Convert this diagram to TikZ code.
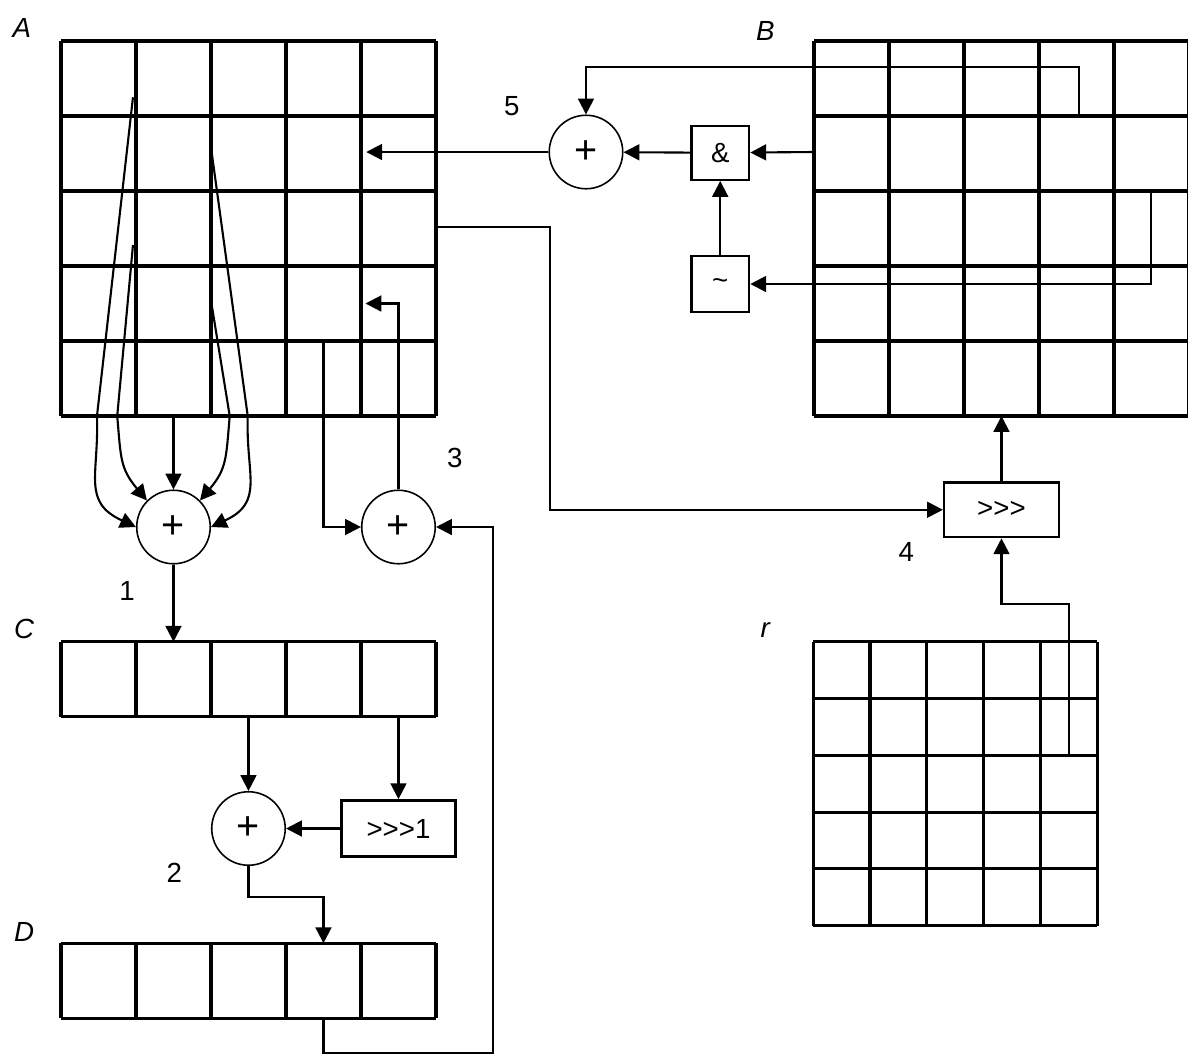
\documentclass[tikz,border=0pt]{standalone}
\usepackage{fontspec}
\setmainfont{Liberation Sans}
\usetikzlibrary{arrows.meta}

% three shift signs, kept apart so that >> is not turned into a guillemet
\newcommand{\shiftsign}{>\kern0pt>\kern0pt>}

\begin{document}
\begin{tikzpicture}[
    % Define styles
    gridline/.style={draw=black, line width=1.2pt},
    sumnode/.style={circle, draw=black, line width=0.6pt, minimum size=0.98cm, inner sep=0pt, font=\fontsize{15}{15}\selectfont},
    opbox/.style={rectangle, draw=black, line width=0.9pt, minimum width=0.77cm, minimum height=0.74cm, inner sep=0pt, font=\fontsize{10.5}{12}\selectfont},
    widebox/.style={opbox, minimum width=1.52cm, minimum height=0.75cm},
    matlabel/.style={font=\fontsize{10.5}{12}\selectfont\itshape},
    steplabel/.style={font=\fontsize{10.5}{12}\selectfont},
    arrow/.style={-{Triangle[length=6pt, width=6pt]}, line width=0.8pt}
]
    \useasboundingbox (-0.813,0.547) rectangle (15.027,-13.547);

    % 1. The matrices
    \draw[gridline] (0,0) grid (5,-5);
    \draw[gridline, shift={(10.04,0)}] (0,0) grid (5,-5);
    \draw[gridline, shift={(0,-8.01)}] (0,0) grid (5,-1);
    \draw[gridline, shift={(0,-12.03)}] (0,0) grid (5,-1);
    \draw[gridline, shift={(10.03,-8.01)}, scale=0.757] (0,0) grid (5,-5);

    \node[matlabel] (labA) at (-0.52,0.17) {A};
    \node[matlabel] (labB) at (9.39,0.13) {B};
    \node[matlabel] (labC) at (-0.49,-7.84) {C};
    \node[matlabel] (labD) at (-0.49,-11.88) {D};
    \node[matlabel] (labr) at (9.39,-7.85) {r};

    % Cells where the connectors leave or enter the matrices
    \coordinate (L1s) at (0.96,-0.75);
    \coordinate (L2s) at (0.96,-2.72);
    \coordinate (R1s) at (2.01,-1.49);
    \coordinate (R2s) at (2.01,-3.52);
    \coordinate (Abot) at (1.5,-5);
    \coordinate (A3out) at (3.5,-4);
    \coordinate (A3in) at (4.06,-3.5);
    \coordinate (A5in) at (4.07,-1.48);
    \coordinate (Aout) at (5,-2.48);
    \coordinate (Ctop) at (1.5,-8.01);
    \coordinate (Cout1) at (2.5,-9.01);
    \coordinate (Cout2) at (4.5,-9.01);
    \coordinate (Dtop) at (3.5,-12.03);
    \coordinate (Dout) at (3.5,-13.03);
    \coordinate (Bleft) at (10.04,-1.48);
    \coordinate (Bout1) at (13.57,-0.97);
    \coordinate (Bout2) at (14.53,-1.97);
    \coordinate (Bbot) at (12.54,-5);
    \coordinate (rout) at (13.44,-9.52);

    % 2. The operations
    \node[sumnode] (sum1) at (1.5,-6.48) {+};
    \node[sumnode] (sum2) at (2.5,-10.5) {+};
    \node[sumnode] (sum3) at (4.5,-6.48) {+};
    \node[sumnode] (sum5) at (7.0,-1.48) {+};
    \node[widebox] (half) at (4.5,-10.5) {\shiftsign1};
    \node[widebox, minimum width=1.53cm, minimum height=0.73cm] (rot) at (12.54,-6.25) {\shiftsign};
    \node[opbox, minimum height=0.72cm] (andop) at (8.79,-1.49) {\&};
    \node[opbox] (notop) at (8.79,-3.24) {\textasciitilde};

    \node[steplabel] (step1) at (0.88,-7.33) {1};
    \node[steplabel] (step2) at (1.51,-11.09) {2};
    \node[steplabel] (step3) at (5.25,-5.56) {3};
    \node[steplabel] (step4) at (11.27,-6.81) {4};
    \node[steplabel] (step5) at (6.01,-0.87) {5};

    % 3. Connections (Arrows)
    % Sum of the column neighbours
    \draw[arrow] (Abot) -- (sum1);
    \draw[arrow] (L1s) -- (0.48,-5) to[out=-88, in=155, looseness=1.3] (sum1.west);
    \draw[arrow] (L2s) -- (0.75,-5) to[out=-85, in=130, looseness=1.2] (sum1.north west);
    \draw[arrow] (R2s) -- (2.25,-5) to[out=-95, in=50, looseness=1.2] (sum1.north east);
    \draw[arrow] (R1s) -- (2.49,-5) to[out=-92, in=25, looseness=1.3] (sum1.east);
    \draw[arrow] (sum1) -- (Ctop);

    % C is added to itself shifted by one
    \draw[arrow] (Cout1) -- (sum2);
    \draw[arrow] (Cout2) -- (half);
    \draw[arrow] (half) -- (sum2);
    \draw[arrow] (sum2) -- (2.5,-11.41) -| (Dtop);

    % D goes back into A
    \draw[arrow] (A3out) |- (sum3);
    \draw[arrow] (Dout) |- (5.76,-13.49) |- (sum3);
    \draw[arrow] (sum3) |- (A3in);

    % Rotation of A by r into B
    \draw[arrow] (Aout) -- (6.52,-2.48) |- (rot);
    \draw[arrow] (rout) -- (13.44,-7.51) -| (rot);
    \draw[arrow] (rot) -- (Bbot);

    % B is combined back into A
    \draw[arrow] (Bleft) -- (andop);
    \draw[arrow] (Bout2) |- (notop);
    \draw[arrow] (notop) -- (andop);
    \draw[arrow] (andop) -- (sum5);
    \draw[arrow] (Bout1) -- (13.57,-0.35) -| (sum5);
    \draw[arrow] (sum5) -- (A5in);

\end{tikzpicture}
\end{document}
